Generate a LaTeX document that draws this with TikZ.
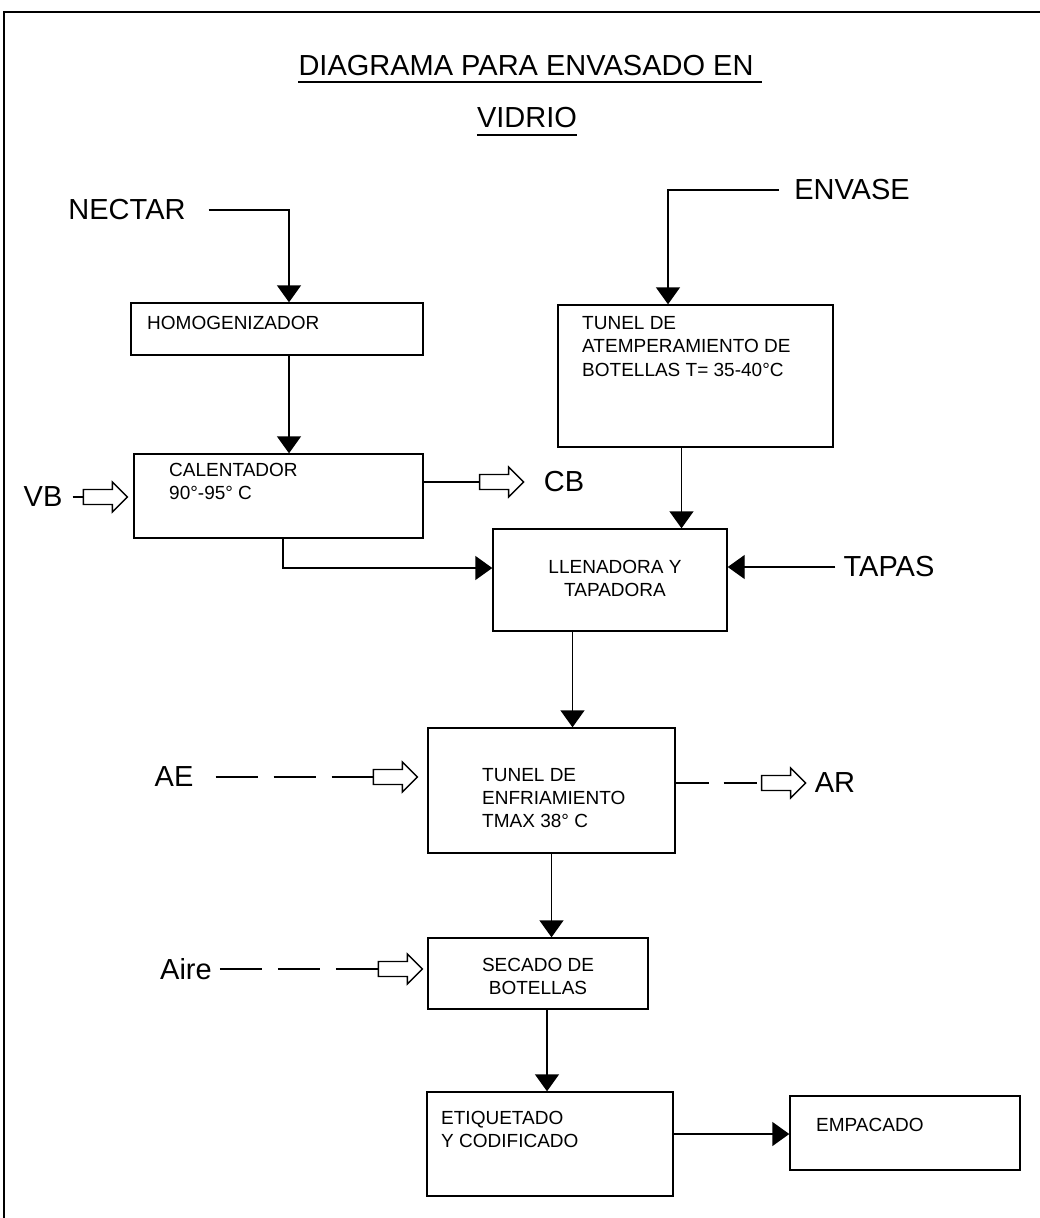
\documentclass[tikz,border=0pt]{standalone}
\usepackage{fontspec}
\setmainfont{Liberation Sans}
\usetikzlibrary{arrows.meta}
\usetikzlibrary{decorations.markings}
\usetikzlibrary{calc}
\tikzset{box/.style = {draw, line width=1.4pt, inner sep=0pt}}
\tikzset{tag/.style = {font=\fontsize{29}{34}\selectfont, inner sep=2pt}}
\tikzset{txt/.style = {font=\fontsize{19}{23.5}\selectfont, inner sep=0pt}}
\tikzset{flow/.style = {line width=1.4pt, -{Triangle[width=24pt,length=17pt]}}}
\tikzset{hollow/.style = {line width=1.4pt, decoration={markings,mark=at position 1 with {\draw[solid,fill=white,line width=1.4pt] (-44pt,-7.5pt) -- (-15pt,-7.5pt) -- (-15pt,-15pt) -- (0pt,0pt) -- (-15pt,15pt) -- (-15pt,7.5pt) -- (-44pt,7.5pt) -- cycle;}},postaction={decorate}}}

\begin{document}
\begin{tikzpicture}[x=1pt,y=-1pt]
        \useasboundingbox (0,0) rectangle (1040,1218);
        \draw[line width=1.4pt] (1040,12) -| (4,1218);
        % title
        \node[tag, inner sep=0pt, anchor=base] (title1) at (530,75) {DIAGRAMA PARA ENVASADO EN\hspace*{8pt}};
        \node[tag, inner sep=0pt, anchor=base] (title2) at (527,127) {VIDRIO};
        \draw[line width=1.6pt] ([yshift=-7pt]title1.base west) -- ([yshift=-7pt]title1.base east);
        \draw[line width=1.6pt] ([yshift=-8pt]title2.base west) -- ([yshift=-8pt]title2.base east);
        % boxes
        \node[box, minimum width=292, minimum height=52] (homog) at (277,329) {};
        \node[txt, anchor=west] (homogtxt) at (147,323) {HOMOGENIZADOR};
        \node[box, minimum width=275, minimum height=142] (atemp) at (695.5,376) {};
        \node[txt, anchor=north west, align=left] (atemptxt) at (582,316) {TUNEL DE\\ATEMPERAMIENTO DE\\BOTELLAS T= 35-40°C};
        \node[box, minimum width=289, minimum height=84] (calent) at (278.5,496) {};
        \node[txt, anchor=north west, align=left] (calenttxt) at (169,463) {CALENTADOR\\90°-95° C};
        \node[box, minimum width=234, minimum height=102] (llen) at (610,580) {};
        \node[txt, align=center] (llentxt) at (615,578.5) {LLENADORA Y\\TAPADORA};
        \node[box, minimum width=247, minimum height=125] (enfr) at (551.5,790.5) {};
        \node[txt, anchor=north west, align=left, font=\fontsize{19}{23}\selectfont] (enfrtxt) at (482,768) {TUNEL DE\\ENFRIAMIENTO\\TMAX 38° C};
        \node[box, minimum width=220, minimum height=71] (secado) at (538,973.5) {};
        \node[txt, align=center] (secadotxt) at (538,976.5) {SECADO DE\\BOTELLAS};
        \node[box, minimum width=246, minimum height=104] (etiq) at (550,1144) {};
        \node[txt, anchor=north west, align=left] (etiqtxt) at (441,1111) {ETIQUETADO\\Y CODIFICADO};
        \node[box, minimum width=230, minimum height=74] (empac) at (905,1133) {};
        \node[txt, anchor=west] (empactxt) at (816,1125) {EMPACADO};
        % inputs and outputs
        \node[tag] (nectar) at (127,210) {NECTAR};
        \node[tag] (envase) at (852,190) {ENVASE};
        \node[tag] (vb) at (43,497) {VB};
        \node[tag] (cb) at (564,482) {CB};
        \node[tag] (tapas) at (889,567) {TAPAS};
        \node[tag] (ae) at (174,777) {AE};
        \node[tag] (ar) at (835,783) {AR};
        \node[tag] (aire) at (186,969) {Aire};
        % flow lines
        \draw[flow] ([xshift=21pt]nectar.east) -| ([xshift=12pt]homog.north);
        \draw[flow] ([xshift=-13pt]envase.west) -| ([xshift=-27.5pt]atemp.north);
        \draw[flow] ([xshift=12pt]homog.south) -- ([xshift=10.5pt]calent.north);
        \draw[flow] ([xshift=-14pt]atemp.south) -- ([xshift=71.5pt]llen.north);
        \draw[flow] ([xshift=4.5pt]calent.south) |- ([yshift=12pt]llen.west);
        \draw[flow] ([xshift=-6pt]tapas.west) -- (llen.east |- tapas.west);
        \draw[flow] ([xshift=-37.5pt]llen.south) -- ([xshift=21pt]enfr.north);
        \draw[flow] (enfr.south) -- ([xshift=13.5pt]secado.north);
        \draw[flow] ([xshift=9pt]secado.south) -- ([xshift=-3pt]etiq.north);
        \draw[flow] ([yshift=10pt]etiq.east) -- ([yshift=-1pt]empac.west);
        % steam, water and air
        \draw[hollow] ($(vb.east)+(8,0)$) -- ($(calent.west)+(-6,1)$);
        \draw[hollow] ([yshift=14pt]calent.east) -- ($(cb.west)+(-18,0)$);
        \draw[hollow, dash pattern=on 42pt off 16pt] ($(ae.east)+(20,0)$) -- ($(enfr.west |- ae)+(-10,0)$);
        \draw[hollow, dash pattern=on 33pt off 15pt] ([yshift=7.5pt]enfr.east) -- ($(ar.west)+(-7,0)$);
        \draw[hollow, dash pattern=on 42pt off 16pt] ($(aire.east)+(6,0)$) -- ($(secado.west |- aire)+(-5,0)$);
\end{tikzpicture}
\end{document}
